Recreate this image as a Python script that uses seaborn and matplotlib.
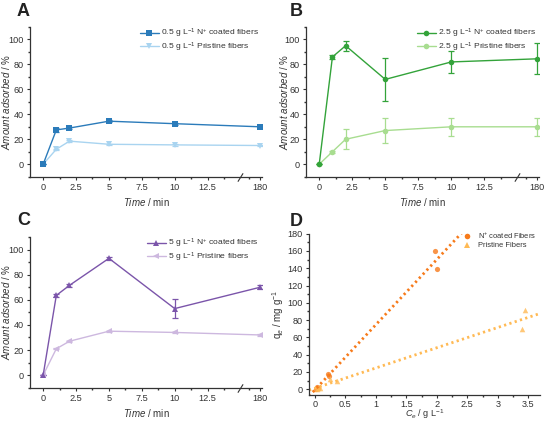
import numpy as np
import pandas as pd
import seaborn as sns
import matplotlib
matplotlib.use("Agg")
import matplotlib.pyplot as plt
from matplotlib.lines import Line2D
from matplotlib.ticker import FixedLocator, MultipleLocator

# ---------------- data ----------------
time_min = [0, 1, 2, 5, 10, 180]
time_ticks = [0, 2.5, 5, 7.5, 10, 12.5, 180]
time_tick_labels = ["0", "2.5", "5", "7.5", "10", "12.5", "180"]

a_coated = [0, 27.5, 29, 34.5, 32.5, 30]
a_coated_err = [0, 1.5, 1, 0.8, 0.8, 0.8]
a_pristine = [0, 12, 18.5, 16, 15.5, 15]
a_pristine_err = [0, 0.5, 0.8, 0.5, 0.5, 0.5]

b_coated = [0, 86, 95, 68, 82, 84.5]
b_coated_err = [0, 1.5, 4, 17, 8.5, 12.5]
b_pristine = [0, 10, 20, 27, 30, 30]
b_pristine_err = [0, 1, 8, 10, 7, 7]

c_coated = [0, 63.5, 71.5, 93, 53, 70]
c_coated_err = [0, 1, 1, 1, 7.5, 1.5]
c_pristine = [0, 21, 27, 35, 34, 32]
c_pristine_err = [0, 0.5, 0.5, 0.5, 0.5, 0.5]

d_coated_ce = [0.02, 0.04, 0.06, 0.21, 0.23, 1.97, 2.01]
d_coated_qe = [0.0, 3.0, 2.0, 17.5, 15.0, 160.0, 139.0]
d_pristine_ce = [0.03, 0.05, 0.08, 0.25, 0.37, 3.39, 3.44]
d_pristine_qe = [0.0, 1.5, 1.0, 12.0, 10.0, 70.0, 92.0]

# ---------------- style ----------------
sns.set_theme(style="ticks")
plt.rcParams["font.family"] = ["Liberation Sans", "DejaVu Sans"]
plt.rcParams["mathtext.fontset"] = "custom"
plt.rcParams["mathtext.rm"] = "Liberation Sans"
plt.rcParams["mathtext.it"] = "Liberation Sans:italic"
plt.rcParams["mathtext.bf"] = "Liberation Sans:bold"
TXT = "#333333"
plt.rcParams.update({
    "axes.edgecolor": "#333333", "xtick.color": "#333333", "ytick.color": "#333333",
    "text.color": TXT, "axes.labelcolor": TXT,
    "xtick.labelsize": 6.6, "ytick.labelsize": 6.6,
    "xtick.major.size": 2.5, "ytick.major.size": 2.5,
    "xtick.minor.size": 1.5, "ytick.minor.size": 1.5,
    "xtick.major.width": 0.8, "ytick.major.width": 0.8,
    "axes.linewidth": 0.9,
})

K = 1.5 / 165.0
BRK = 15.0


def fwd(x):
    x = np.asarray(x, dtype=float)
    return np.where(x <= BRK, x, BRK + (x - BRK) * K)


def inv(y):
    y = np.asarray(y, dtype=float)
    return np.where(y <= BRK, y, BRK + (y - BRK) / K)


fig = plt.figure(figsize=(5.46, 4.22), dpi=100)

W, H = 546.0, 422.0


def box(l, r, t, b):
    return [l / W, 1 - b / H, (r - l) / W, (b - t) / H]


axA = fig.add_axes(box(30, 262, 27, 176.7))
axB = fig.add_axes(box(306, 539, 27, 176.7))
axC = fig.add_axes(box(30, 262, 237, 387.7))
axD = fig.add_axes(box(309, 540, 233.7, 395.3))

ylab = r"$\mathit{Amount\ adsorbed}$ / %"
xlab = r"$\mathit{Time}$ / min"


def kinetic(ax, conc, coated, cerr, prist, perr, dark, light, m1, m2, ylx, legx):
    df = pd.DataFrame({"t": time_min, "c": coated, "p": prist})
    ax.set_xscale("function", functions=(fwd, inv))
    ax.errorbar(time_min, prist, yerr=perr, fmt="none", ecolor=light,
                elinewidth=0.9, capsize=2.2, capthick=0.9, zorder=2)
    ax.errorbar(time_min, coated, yerr=cerr, fmt="none", ecolor=dark,
                elinewidth=0.9, capsize=2.2, capthick=0.9, zorder=3)
    sns.lineplot(data=df, x="t", y="c", ax=ax, color=dark, marker=m1,
                 markersize=4, markeredgewidth=0, linewidth=1.0,
                 label=conc + r" g L$^{-1}$ N$^{+}$ coated fibers", zorder=4)
    sns.lineplot(data=df, x="t", y="p", ax=ax, color=light, marker=m2,
                 markersize=4, markeredgewidth=0, linewidth=1.0,
                 label=conc + r" g L$^{-1}$ Pristine fibers", zorder=3)
    ax.set_xlim(-1.0, 195)
    ax.set_ylim(-10, 110)
    ax.set_xticks(time_ticks)
    ax.set_xticklabels(time_tick_labels)
    ax.xaxis.set_minor_locator(FixedLocator([1.25, 3.75, 6.25, 8.75, 11.25, 13.75, 90]))
    ax.set_yticks([0, 20, 40, 60, 80, 100])
    ax.yaxis.set_minor_locator(MultipleLocator(10))
    ax.tick_params(which="both", direction="out", pad=2)
    sns.despine(ax=ax)
    ax.set_xlabel(xlab, fontsize=7)
    ax.xaxis.set_label_coords(0.5, -0.13)
    ax.set_ylabel(ylab, fontsize=7)
    ax.yaxis.set_label_coords(ylx, 0.5)
    # axis break mark
    tr = matplotlib.transforms.blended_transform_factory(ax.transData, ax.transAxes)
    ax.plot([BRK], [0], transform=tr, marker=[(-1, -1.6), (1, 1.6)], markersize=6,
            color="#333333", markeredgewidth=0.8, clip_on=False, zorder=10)
    leg = ax.legend(loc="upper right", bbox_to_anchor=(legx, 1.04), frameon=False,
                    fontsize=6.1, handlelength=2.3, handletextpad=0.25,
                    labelspacing=0.0, borderpad=0.2)
    for t in leg.get_texts():
        t.set_color(TXT)


kinetic(axA, "0.5", a_coated, a_coated_err, a_pristine, a_pristine_err,
        "#2b7bba", "#a9d4f0", "s", "v", -0.078, 1.013)
kinetic(axB, "2.5", b_coated, b_coated_err, b_pristine, b_pristine_err,
        "#33a33a", "#a8dd90", "o", "o", -0.07, 1.013)
kinetic(axC, "5", c_coated, c_coated_err, c_pristine, c_pristine_err,
        "#7b55aa", "#cdb8df", "^", "<", -0.078, 1.013)

# ---------------- panel D ----------------
dD = "#f77a1a"
lD = "#ffba55"
dfc = pd.DataFrame({"ce": d_coated_ce, "qe": d_coated_qe})
dfp = pd.DataFrame({"ce": d_pristine_ce, "qe": d_pristine_qe})
axD.set_xlim(-0.094, 3.69)
axD.set_ylim(-7, 180)
sns.regplot(data=dfc, x="ce", y="qe", ax=axD, ci=None, truncate=False,
            color=dD, marker="o", scatter_kws={"s": 14, "linewidths": 0},
            line_kws={"ls": (0, (0.8, 1.2)), "lw": 2.0})
sns.regplot(data=dfp, x="ce", y="qe", ax=axD, ci=None, truncate=False,
            color=lD, marker="^", scatter_kws={"s": 16, "linewidths": 0},
            line_kws={"ls": (0, (0.8, 1.2)), "lw": 2.0})
axD.set_xlim(-0.094, 3.69)
axD.set_ylim(-7, 180)
axD.set_xticks([0, 0.5, 1, 1.5, 2, 2.5, 3, 3.5])
axD.set_xticklabels(["0", "0.5", "1", "1.5", "2", "2.5", "3", "3.5"])
axD.xaxis.set_minor_locator(MultipleLocator(0.25))
axD.set_yticks(range(0, 181, 20))
axD.yaxis.set_minor_locator(MultipleLocator(10))
axD.tick_params(which="both", direction="out", pad=2)
axD.tick_params(axis="x", which="both", pad=0.8)
sns.despine(ax=axD)
axD.set_xlabel(r"$\mathit{C}_{e}$ / g L$^{-1}$", fontsize=6.6)
axD.xaxis.set_label_coords(0.5, -0.077)
axD.set_ylabel(r"q$_{e}$ / mg g$^{-1}$", fontsize=7)
axD.yaxis.set_label_coords(-0.1, 0.5)
hD = [Line2D([], [], ls="none", marker="o", color=dD, markersize=4, markeredgewidth=0),
      Line2D([], [], ls="none", marker="^", color=lD, markersize=4, markeredgewidth=0)]
legD = axD.legend(hD, [r"N$^{+}$ coated Fibers", "Pristine Fibers"], loc="upper right",
                  bbox_to_anchor=(1.01, 1.06), frameon=False, fontsize=5.4,
                  handlelength=1.5, handletextpad=0.6, labelspacing=0.15)
for t in legD.get_texts():
    t.set_color(TXT)

# panel letters
for lab, x, y in [("A", 17, 11), ("B", 290, 11), ("C", 17, 220), ("D", 290, 221)]:
    fig.text(x / W, 1 - y / H, lab, fontsize=13, fontweight="bold", color="#222222",
             ha="left", va="center")

fig.savefig("out.png", dpi=100)
